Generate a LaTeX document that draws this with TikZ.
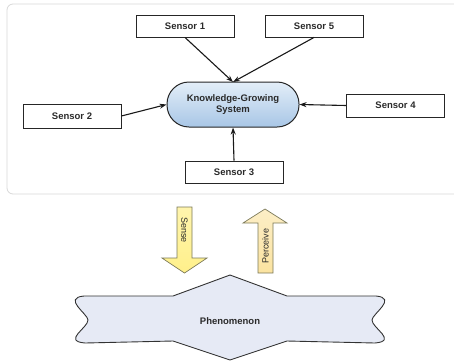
\documentclass[tikz,border=0pt]{standalone}
\usepackage{fontspec}
\setmainfont{Liberation Sans}
\usetikzlibrary{arrows.meta}
\definecolor{txt}{HTML}{2A2A2A}
\definecolor{kgsTop}{HTML}{E3EEF8}
\definecolor{kgsBot}{HTML}{A8C6E6}
\definecolor{phen}{HTML}{E6EAF5}
\definecolor{senseF}{HTML}{FFF08A}
\definecolor{percF}{HTML}{FBE3A0}
\definecolor{arrB}{HTML}{7C7A5A}
\tikzset{
  sensorbox/.style={draw=black!85,line width=0.9pt,fill=white,minimum width=98pt,minimum height=22pt,inner sep=0pt,font=\fontsize{9.5}{11}\selectfont\bfseries,text=txt},
  conn/.style={-{Stealth[length=7pt,width=5pt]},line width=1.1pt,black!90},
  bigarrow/.style={draw=arrB,line width=0.7pt},
  lbl/.style={font=\fontsize{9}{10}\selectfont,text=txt,inner sep=0pt}
}
\begin{document}
\begin{tikzpicture}[x=1pt,y=-1pt]
\useasboundingbox (0,0) rectangle (454,362);
\fill[white] (0,0) rectangle (454,362);
% frame
\draw[black!15,line width=0.8pt,rounded corners=6pt] (7,4) rectangle (470,194);
% center node
\node[draw=black!85,line width=1pt,rounded corners=22pt,top color=kgsTop,bottom color=kgsBot,minimum width=132pt,minimum height=45pt,align=center,font=\fontsize{9.5}{11}\selectfont\bfseries,text=txt,inner sep=0pt] (kgs) at (233,104.5) {Knowledge-Growing\\System};
% sensors
\node[sensorbox] (s1) at (185,26) {Sensor 1};
\node[sensorbox] (s5) at (314,26) {Sensor 5};
\node[sensorbox,minimum height=24pt] (s2) at (72,116) {Sensor 2};
\node[sensorbox,minimum height=23pt] (s4) at (395.5,105.5) {Sensor 4};
\node[sensorbox] (s3) at (234,172) {Sensor 3};
\coordinate (ktop) at (233,82);
\draw[conn] (s1.south) -- (ktop);
\draw[conn] (s5.south) -- (ktop);
\draw[conn] (s2.east) -- (kgs.west);
\draw[conn] (s4.west) -- (kgs.east);
\draw[conn] (s3.north) -- (kgs.south);
% sense arrow
\draw[bigarrow,top color=senseF!70,bottom color=senseF] (177,207) -- (192,207) -- (192,258) -- (207,258) -- (184.5,273) -- (162,258) -- (177,258) -- cycle;
\node[lbl,rotate=-90] (sense) at (184.5,230) {Sense};
% perceive arrow
\draw[bigarrow,top color=percF!60,bottom color=percF] (265,209) -- (287,223) -- (273,223) -- (273,273) -- (258,273) -- (258,223) -- (243,223) -- cycle;
\node[lbl,rotate=90] (perc) at (265.5,246) {Perceive};
% phenomenon
\draw[draw=black!80,line width=0.9pt,fill=phen]
  (230,275) -- (173,296) -- (84,296)
  .. controls (62,298) and (88,314) .. (88,320)
  .. controls (88,328) and (62,341) .. (85,343)
  -- (173,341) -- (230,360) -- (287,341) -- (375,343)
  .. controls (398,341) and (372,328) .. (372,320)
  .. controls (372,314) and (398,298) .. (376,296)
  -- (287,296) -- cycle;
\node[font=\fontsize{9.5}{11}\selectfont\bfseries,text=txt] (phen) at (230,321) {Phenomenon};
\end{tikzpicture}
\end{document}
